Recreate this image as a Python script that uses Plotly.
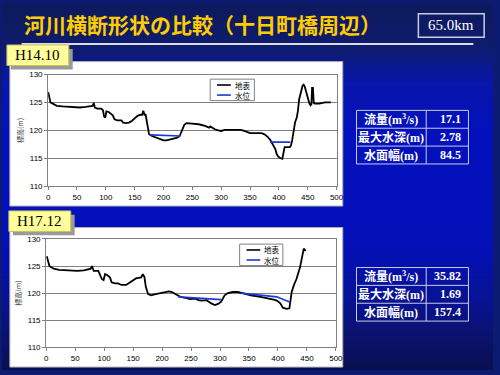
import plotly.graph_objects as go

# ---------------- data ----------------
title_text = "河川横断形状の比較（十日町橋周辺）"
km_text = "65.0km"
labels = ["H14.10", "H17.12"]
legend_names = ["地表", "水位"]
y_title = "標高(m)"

x14 = [0, 2, 4, 8, 15, 25, 40, 55, 65, 72,
       77, 79, 81, 85, 92, 95, 97, 99, 101, 105,
       109, 112, 115, 120, 127, 130, 135, 140, 145, 150,
       155, 160, 163, 165, 167, 169, 172, 175, 180, 185,
       190, 195, 200, 205, 210, 218, 224, 228, 232, 236,
       240, 250, 261, 272, 279, 281, 284, 289, 295, 300,
       306, 317, 334, 340, 345, 350, 360, 370, 375, 380,
       385, 388, 392, 394, 396, 399, 403, 406, 408, 410,
       419, 421, 423, 426, 428, 431, 433, 435, 438, 441,
       443, 445, 447, 450, 453, 455, 456.5, 457.5, 459, 460.5,
       462, 470, 480, 490]
y14 = [126.9, 125.6, 125.0, 124.8, 124.4, 124.3, 124.2, 124.1, 124.2, 124.3,
       124.4, 124.9, 124.1, 123.9, 123.9, 123.6, 122.5, 122.3, 123.4, 123.3,
       123.0, 122.7, 122.0, 121.8, 121.8, 121.4, 121.3, 121.4, 121.7, 122.1,
       122.6, 122.8, 122.8, 123.5, 122.8, 122.8, 121.0, 119.3, 119.0, 118.8,
       118.6, 118.4, 118.2, 118.2, 118.3, 118.5, 118.7, 119.0, 120.0, 121.0,
       121.3, 121.2, 121.1, 120.8, 120.5, 120.7, 120.5, 120.2, 120.0, 119.9,
       120.1, 120.1, 120.1, 119.9, 119.7, 119.5, 119.5, 119.5, 119.3, 118.9,
       118.3, 117.7, 117.0, 116.6, 115.8, 115.3, 115.0, 114.9, 116.0, 117.0,
       117.0, 117.3, 118.2, 120.5, 121.4, 122.3, 123.5, 125.5, 127.0, 128.0,
       128.2, 127.8, 127.0, 125.8, 124.8, 124.5, 124.7, 127.6, 127.6, 124.9,
       124.8, 124.8, 125.0, 125.0]
w14_x = [177, 229, None, 385, 420]
w14_y = [119.2, 119.0, None, 117.9, 117.9]

x17 = [1, 3, 5.6, 8, 13, 22, 37, 54, 65, 73,
       77, 79, 82, 90, 96, 99, 101.7, 105.6, 110, 113,
       118.6, 124, 130, 138, 147, 155, 164, 166.7, 169.5, 172,
       176, 181, 189, 200, 212, 217, 223, 231.6, 240, 248.6,
       257, 262.7, 268.4, 276.8, 285, 291, 296.6, 302, 308, 313.6,
       322, 330.5, 339, 353, 370, 381, 392.7, 398.3, 404, 408.5,
       415, 419.8, 423.7, 428, 432, 438, 442.4, 444.6, 448]
y17 = [126.8, 125.8, 125.0, 124.8, 124.5, 124.3, 124.2, 124.1, 124.2, 124.4,
       124.5, 125.0, 124.1, 124.1, 122.6, 122.4, 123.5, 123.3, 122.9, 122.0,
       121.8, 121.8, 121.5, 121.5, 122.2, 122.7, 122.9, 123.5, 123.0, 121.1,
       119.8, 119.6, 119.8, 120.1, 120.3, 120.2, 119.8, 119.3, 119.1, 118.9,
       119.0, 118.7, 118.6, 118.7, 118.1, 117.8, 118.0, 118.4, 119.6, 120.0,
       120.2, 120.2, 120.0, 119.6, 119.3, 119.1, 118.8, 118.6, 118.1, 117.3,
       117.1, 117.2, 120.2, 121.6, 122.6, 124.7, 127.4, 128.2, 127.8]
w17_x = [228, 302, None, 336, 398, 421]
w17_y = [119.3, 118.8, None, 120.0, 119.3, 118.3]

table_labels = ["流量(m<sup>3</sup>/s)", "最大水深(m)", "水面幅(m)"]
table1_values = ["17.1", "2.78", "84.5"]
table2_values = ["35.82", "1.69", "157.4"]

x_ticks = [0, 50, 100, 150, 200, 250, 300, 350, 400, 450, 500]
y_ticks = [110, 115, 120, 125, 130]

GROUND_COLOR = "black"
WATER_COLOR = "#1a3ad8"

# ---------------- helpers ----------------
W, H = 500, 375
def X(px):
    return px / W
def Y(py):
    return 1 - py / H

shapes = []
annotations = []

# background gradient (vertical)
stops = [(0, (14, 26, 92)), (45, (14, 28, 110)), (80, (8, 22, 170)), (130, (4, 16, 188)),
         (250, (4, 16, 184)), (300, (8, 18, 150)), (340, (10, 18, 110)), (375, (10, 15, 80))]
def col_at(y):
    for (y0, c0), (y1, c1) in zip(stops[:-1], stops[1:]):
        if y0 <= y <= y1:
            t = (y - y0) / (y1 - y0)
            return "rgb(%d,%d,%d)" % tuple(round(a + (b - a) * t) for a, b in zip(c0, c1))
    return "rgb(%d,%d,%d)" % stops[-1][1]
step = 5
for yy in range(0, H, step):
    shapes.append(dict(type="rect", xref="paper", yref="paper", x0=0, x1=1,
                       y0=max(0, Y(yy + step + 0.5)), y1=Y(yy), fillcolor=col_at(yy + step / 2),
                       line=dict(width=0), layer="below"))

# separator line under title
shapes.append(dict(type="line", xref="paper", yref="paper", x0=X(20), x1=X(480), y0=Y(41), y1=Y(41),
                   line=dict(color="#d8dcec", width=2), layer="below"))
# km box
shapes.append(dict(type="rect", xref="paper", yref="paper", x0=X(424), x1=X(491), y0=Y(34), y1=Y(10),
                   line=dict(color="#c8cce0", width=1.5), fillcolor="rgba(0,0,0,0)", layer="below"))

# white panels
panels = [(8, 59, 347, 207), (8, 229, 347, 372)]
for (x0, y0, x1, y1) in panels:
    shapes.append(dict(type="rect", xref="paper", yref="paper", x0=X(x0), x1=X(x1), y0=Y(y1), y1=Y(y0),
                       fillcolor="white", line=dict(color="#b0b0b0", width=1), layer="below"))

# label boxes (with shadow)
label_boxes = [(5, 42, 68, 63), (7, 212, 70, 233)]
for (x0, y0, x1, y1), txt in zip(label_boxes, labels):
    shapes.append(dict(type="rect", xref="paper", yref="paper", x0=X(x0 + 4), x1=X(x1 + 4),
                       y0=Y(y1 + 4), y1=Y(y0 + 4), fillcolor="#9a9a9a", line=dict(width=0), layer="above"))
    shapes.append(dict(type="rect", xref="paper", yref="paper", x0=X(x0), x1=X(x1), y0=Y(y1), y1=Y(y0),
                       fillcolor="#ffff99", line=dict(color="#c8c060", width=1), layer="above"))
    annotations.append(dict(xref="paper", yref="paper", x=X((x0 + x1) / 2), y=Y((y0 + y1) / 2),
                            text=txt, showarrow=False, xanchor="center", yanchor="middle",
                            font=dict(family="Liberation Serif", size=15, color="black")))

# legends (drawn as boxes inside each chart)
legend_boxes = [(212, 77, 257, 99), (242, 246, 286, 268)]
for (x0, y0, x1, y1) in legend_boxes:
    shapes.append(dict(type="rect", xref="paper", yref="paper", x0=X(x0), x1=X(x1), y0=Y(y1), y1=Y(y0),
                       fillcolor="white", line=dict(color="#808080", width=1), layer="above"))
    for k, (nm, colr) in enumerate(zip(legend_names, [GROUND_COLOR, WATER_COLOR])):
        ly = y0 + 6 + k * 10.3
        shapes.append(dict(type="line", xref="paper", yref="paper", x0=X(x0 + 7), x1=X(x0 + 21),
                           y0=Y(ly), y1=Y(ly), line=dict(color=colr, width=1.6), layer="above"))
        annotations.append(dict(xref="paper", yref="paper", x=X(x0 + 23), y=Y(ly), text=nm,
                                showarrow=False, xanchor="left", yanchor="middle",
                                font=dict(family="Noto Sans CJK JP", size=7.5, color="black")))

# tables
tables = [(361, 109, table1_values), (361, 270, table2_values)]
row_h = 18.3
for (tx, ty, vals) in tables:
    tx1, tdiv = 475, 432
    ty1 = ty + 3 * row_h
    shapes.append(dict(type="rect", xref="paper", yref="paper", x0=X(tx), x1=X(tx1), y0=Y(ty1), y1=Y(ty),
                       line=dict(color="#c8cce4", width=1), fillcolor="rgba(0,0,0,0)", layer="above"))
    shapes.append(dict(type="line", xref="paper", yref="paper", x0=X(tdiv), x1=X(tdiv), y0=Y(ty1), y1=Y(ty),
                       line=dict(color="#c8cce4", width=1), layer="above"))
    for i in range(1, 3):
        shapes.append(dict(type="line", xref="paper", yref="paper", x0=X(tx), x1=X(tx1),
                           y0=Y(ty + i * row_h), y1=Y(ty + i * row_h),
                           line=dict(color="#c8cce4", width=1), layer="above"))
    for i, (lab, v) in enumerate(zip(table_labels, vals)):
        cy = ty + (i + 0.5) * row_h
        annotations.append(dict(xref="paper", yref="paper", x=X((tx + tdiv) / 2), y=Y(cy),
                                text="<b>" + lab + "</b>", showarrow=False, xanchor="center", yanchor="middle",
                                font=dict(family="Liberation Serif, Noto Sans CJK JP", size=12, color="white")))
        annotations.append(dict(xref="paper", yref="paper", x=X(tx1 - 6), y=Y(cy),
                                text="<b>" + v + "</b>", showarrow=False, xanchor="right", yanchor="middle",
                                font=dict(family="Liberation Serif", size=12, color="white")))

# title and km text
annotations.append(dict(xref="paper", yref="paper", x=X(20), y=Y(21), text="<b>" + title_text + "</b>",
                        showarrow=False, xanchor="left", yanchor="middle",
                        font=dict(family="Noto Sans CJK JP", size=21, color="#ffcc00")))
annotations.append(dict(xref="paper", yref="paper", x=X(457.5), y=Y(22), text=km_text,
                        showarrow=False, xanchor="center", yanchor="middle",
                        font=dict(family="Liberation Serif", size=15, color="white")))

# ---------------- traces ----------------
fig = go.Figure()
fig.add_trace(go.Scatter(x=x14, y=y14, mode="lines", name=legend_names[0],
                         line=dict(color=GROUND_COLOR, width=1.8), xaxis="x", yaxis="y"))
fig.add_trace(go.Scatter(x=w14_x, y=w14_y, mode="lines", name=legend_names[1],
                         line=dict(color=WATER_COLOR, width=1.6), xaxis="x", yaxis="y"))
fig.add_trace(go.Scatter(x=x17, y=y17, mode="lines", name=legend_names[0],
                         line=dict(color=GROUND_COLOR, width=1.8), xaxis="x2", yaxis="y2"))
fig.add_trace(go.Scatter(x=w17_x, y=w17_y, mode="lines", name=legend_names[1],
                         line=dict(color=WATER_COLOR, width=1.6), xaxis="x2", yaxis="y2"))

tickfont = dict(family="Liberation Sans", size=8, color="black")
def xaxis(domain, anchor):
    return dict(domain=domain, anchor=anchor, range=[0, 500], tickvals=x_ticks, ticks="outside", ticklen=3,
                tickcolor="#808080", showline=True, linecolor="#808080", linewidth=1, mirror=True,
                showgrid=False, zeroline=False, tickfont=tickfont, fixedrange=True)
def yaxis(domain, anchor):
    return dict(domain=domain, anchor=anchor, range=[110, 130], tickvals=y_ticks, ticks="outside", ticklen=3,
                tickcolor="#808080", showline=True, linecolor="#808080", linewidth=1, mirror=True,
                showgrid=True, gridcolor="#808080", gridwidth=1, zeroline=False, tickfont=tickfont,
                title=dict(text=y_title, font=dict(family="Noto Sans CJK JP", size=7, color="#333333"), standoff=4),
                fixedrange=True)

fig.update_layout(
    width=W, height=H, autosize=False, margin=dict(l=0, r=0, t=0, b=0),
    paper_bgcolor="#0c1a70", plot_bgcolor="white",
    xaxis=xaxis([X(47), X(340.7)], "y"),
    yaxis=yaxis([Y(186.7), Y(72.3)], "x"),
    xaxis2=xaxis([X(45), X(340)], "y2"),
    yaxis2=yaxis([Y(351.7), Y(240.7)], "x2"),
    shapes=shapes, annotations=annotations, showlegend=False,
)

fig.write_html("out.html", config={"displayModeBar": False, "staticPlot": True},
               post_script="document.body.style.margin='0';document.body.style.overflow='hidden';")
